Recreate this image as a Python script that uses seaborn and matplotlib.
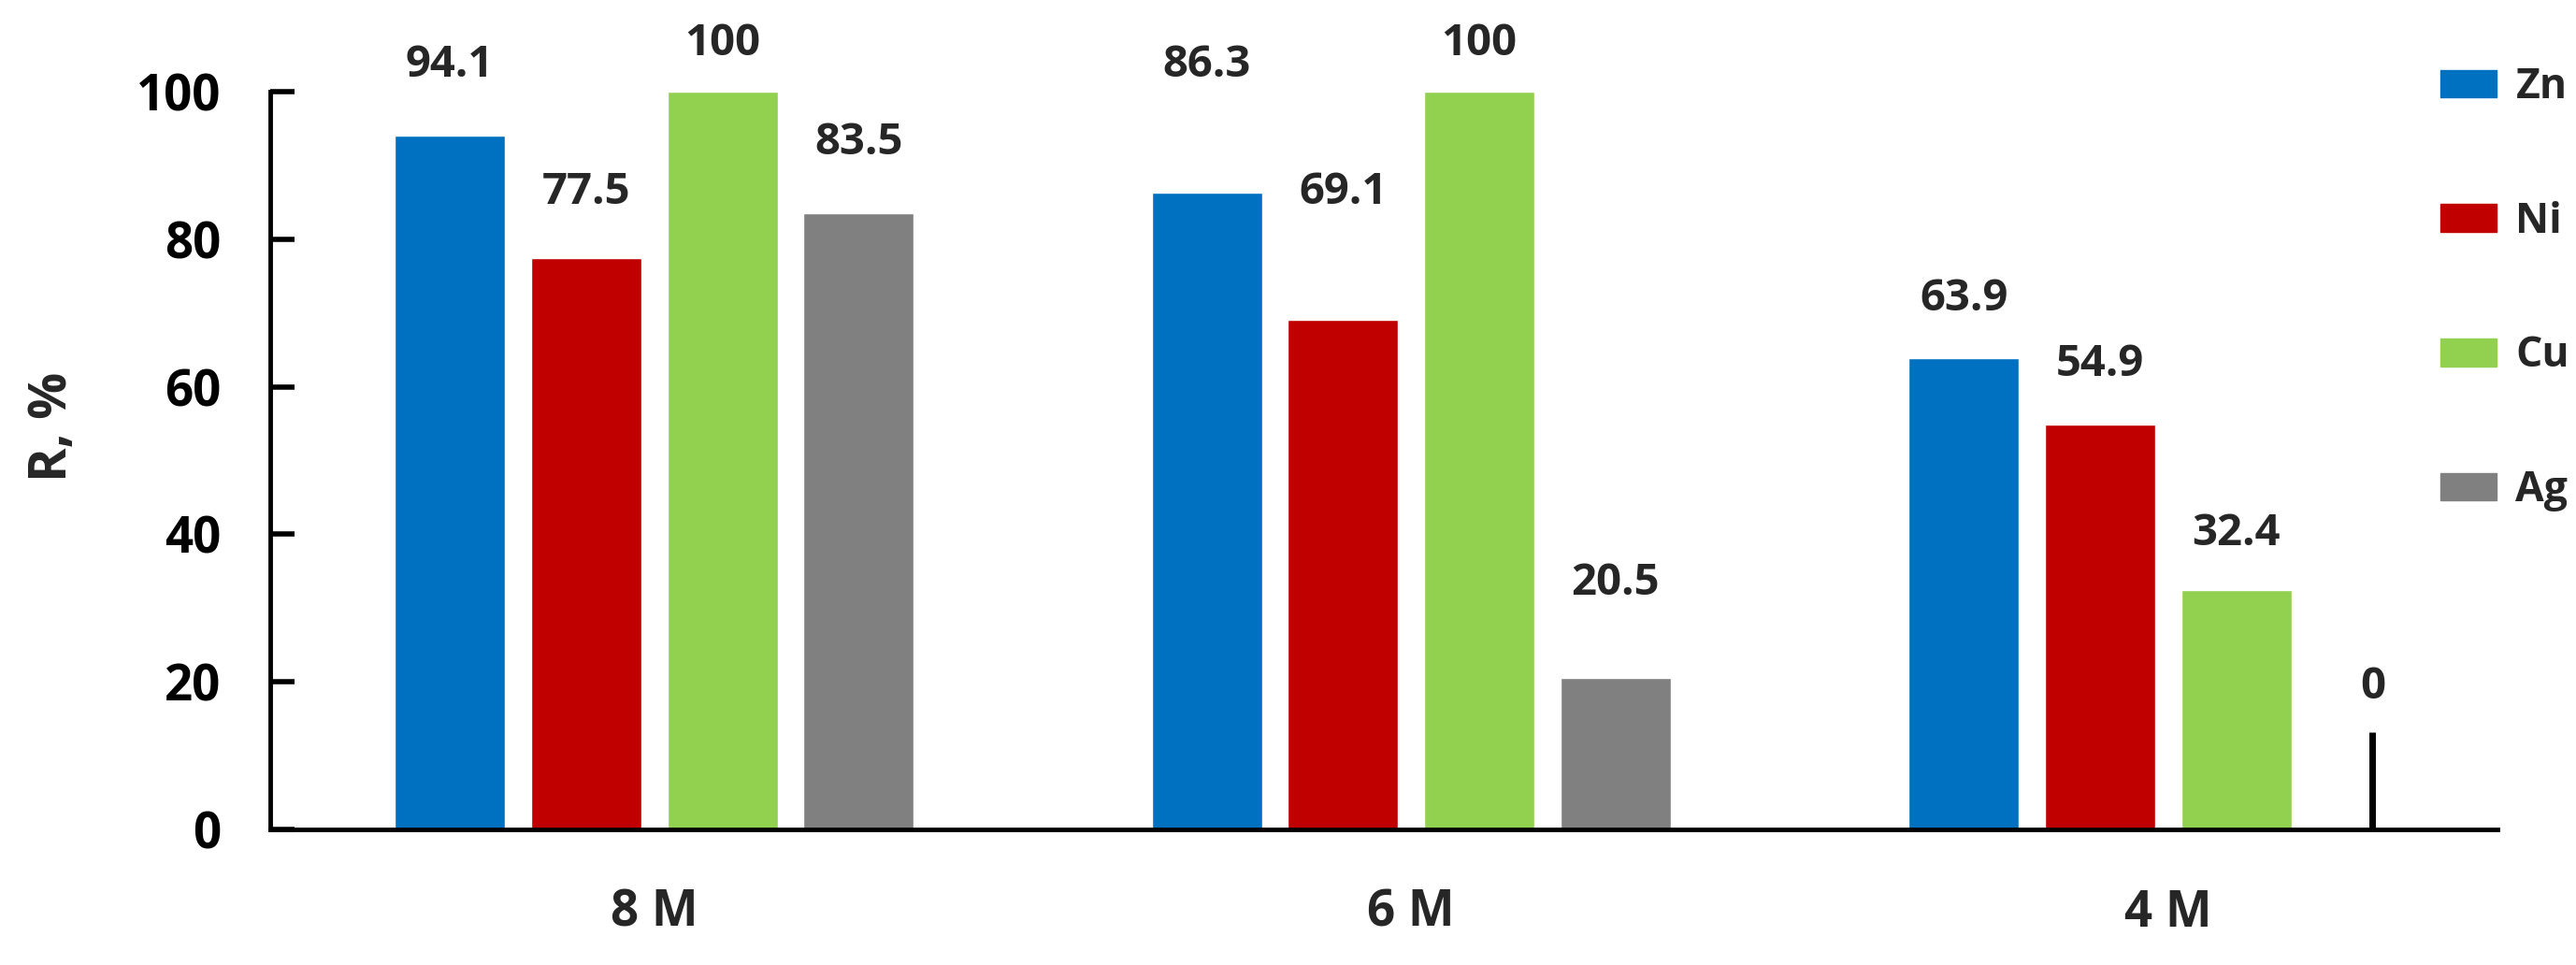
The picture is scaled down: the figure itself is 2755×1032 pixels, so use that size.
'''
Recovery of metals vs acid concentration
'''

import matplotlib
matplotlib.use('Agg')
import matplotlib.pyplot as plt
import seaborn as sns
import pandas as pd

# Data
concentrations = ['8 M', '6 M', '4 M']
metals = ['Zn', 'Ni', 'Cu', 'Ag']
zn = [94.1, 86.3, 63.9]
ni = [77.5, 69.1, 54.9]
cu = [100, 100, 32.4]
ag = [83.5, 20.5, 0]
colors = ['#0070C0', '#C00000', '#92D050', '#808080']

# where the value labels sit (data units, label centre)
label_y = {
    'Zn': [103.6, 103.6, 71.9],
    'Ni': [86.4, 86.4, 63.0],
    'Cu': [106.5, 106.5, 40.1],
    'Ag': [93.1, 33.4, 19.3],
}

rows = []
for metal, vals in zip(metals, [zn, ni, cu, ag]):
    for conc, v in zip(concentrations, vals):
        rows.append({'conc': conc, 'metal': metal, 'R': v})
df = pd.DataFrame(rows)

sns.set_style('ticks', {'ytick.direction': 'in', 'ytick.left': True,
                        'xtick.bottom': False, 'axes.edgecolor': 'black',
                        'ytick.color': 'black'})
plt.rcParams['font.family'] = ['Open Sans', 'DejaVu Sans']
plt.rcParams['font.weight'] = 'bold'

fig = plt.figure(figsize=(27.55, 10.32), dpi=100)
ax = fig.add_axes([0.105, 0.1405, 0.8645, 0.7645])

sns.barplot(data=df, x='conc', y='R', hue='metal', order=concentrations,
            hue_order=metals, palette=colors, width=0.72, gap=0.19,
            saturation=1, legend=False, ax=ax)

ax.set_ylim(0, 100)
ax.set_xlim(-0.507, 2.435)
ax.set_yticks([0, 20, 40, 60, 80, 100])

# value labels
step = 0.72 / 4
for i, metal in enumerate(metals):
    vals = df[df['metal'] == metal]['R'].tolist()
    for j, v in enumerate(vals):
        xpos = j - 0.36 + step * (i + 0.5)
        ax.text(xpos, label_y[metal][j], f'{v:g}', ha='center', va='center',
                fontsize=34, fontweight='bold', clip_on=False)
        if v == 0:
            # leader line for the zero label
            ax.plot([xpos, xpos], [0, 13.2], color='black', lw=5, clip_on=False,
                    solid_capstyle='butt')

# axes styling
sns.despine(ax=ax)
for side in ['left', 'bottom']:
    ax.spines[side].set_linewidth(3.5)
ax.tick_params(axis='y', left=True, direction='in', length=19, width=4,
               color='black', labelsize=38, pad=38)
ax.tick_params(axis='x', bottom=False, length=0, labelsize=38, pad=45)
for lbl in ax.get_xticklabels() + ax.get_yticklabels():
    lbl.set_fontweight('bold')
ax.set_xlabel('')
ax.set_ylabel('R, %', fontsize=40, fontweight='bold')
ax.yaxis.set_label_coords(-0.086, 0.546)

# legend
handles = [plt.Rectangle((0, 0), 1, 1, color=c) for c in colors]
fig.legend(handles, metals, loc='upper left', bbox_to_anchor=(0.933, 0.97),
           frameon=False, handlelength=1.35, handleheight=0.65,
           labelspacing=2.22, handletextpad=0.45, prop={'weight': 'bold', 'size': 32})

fig.savefig('out.png', dpi=100)
